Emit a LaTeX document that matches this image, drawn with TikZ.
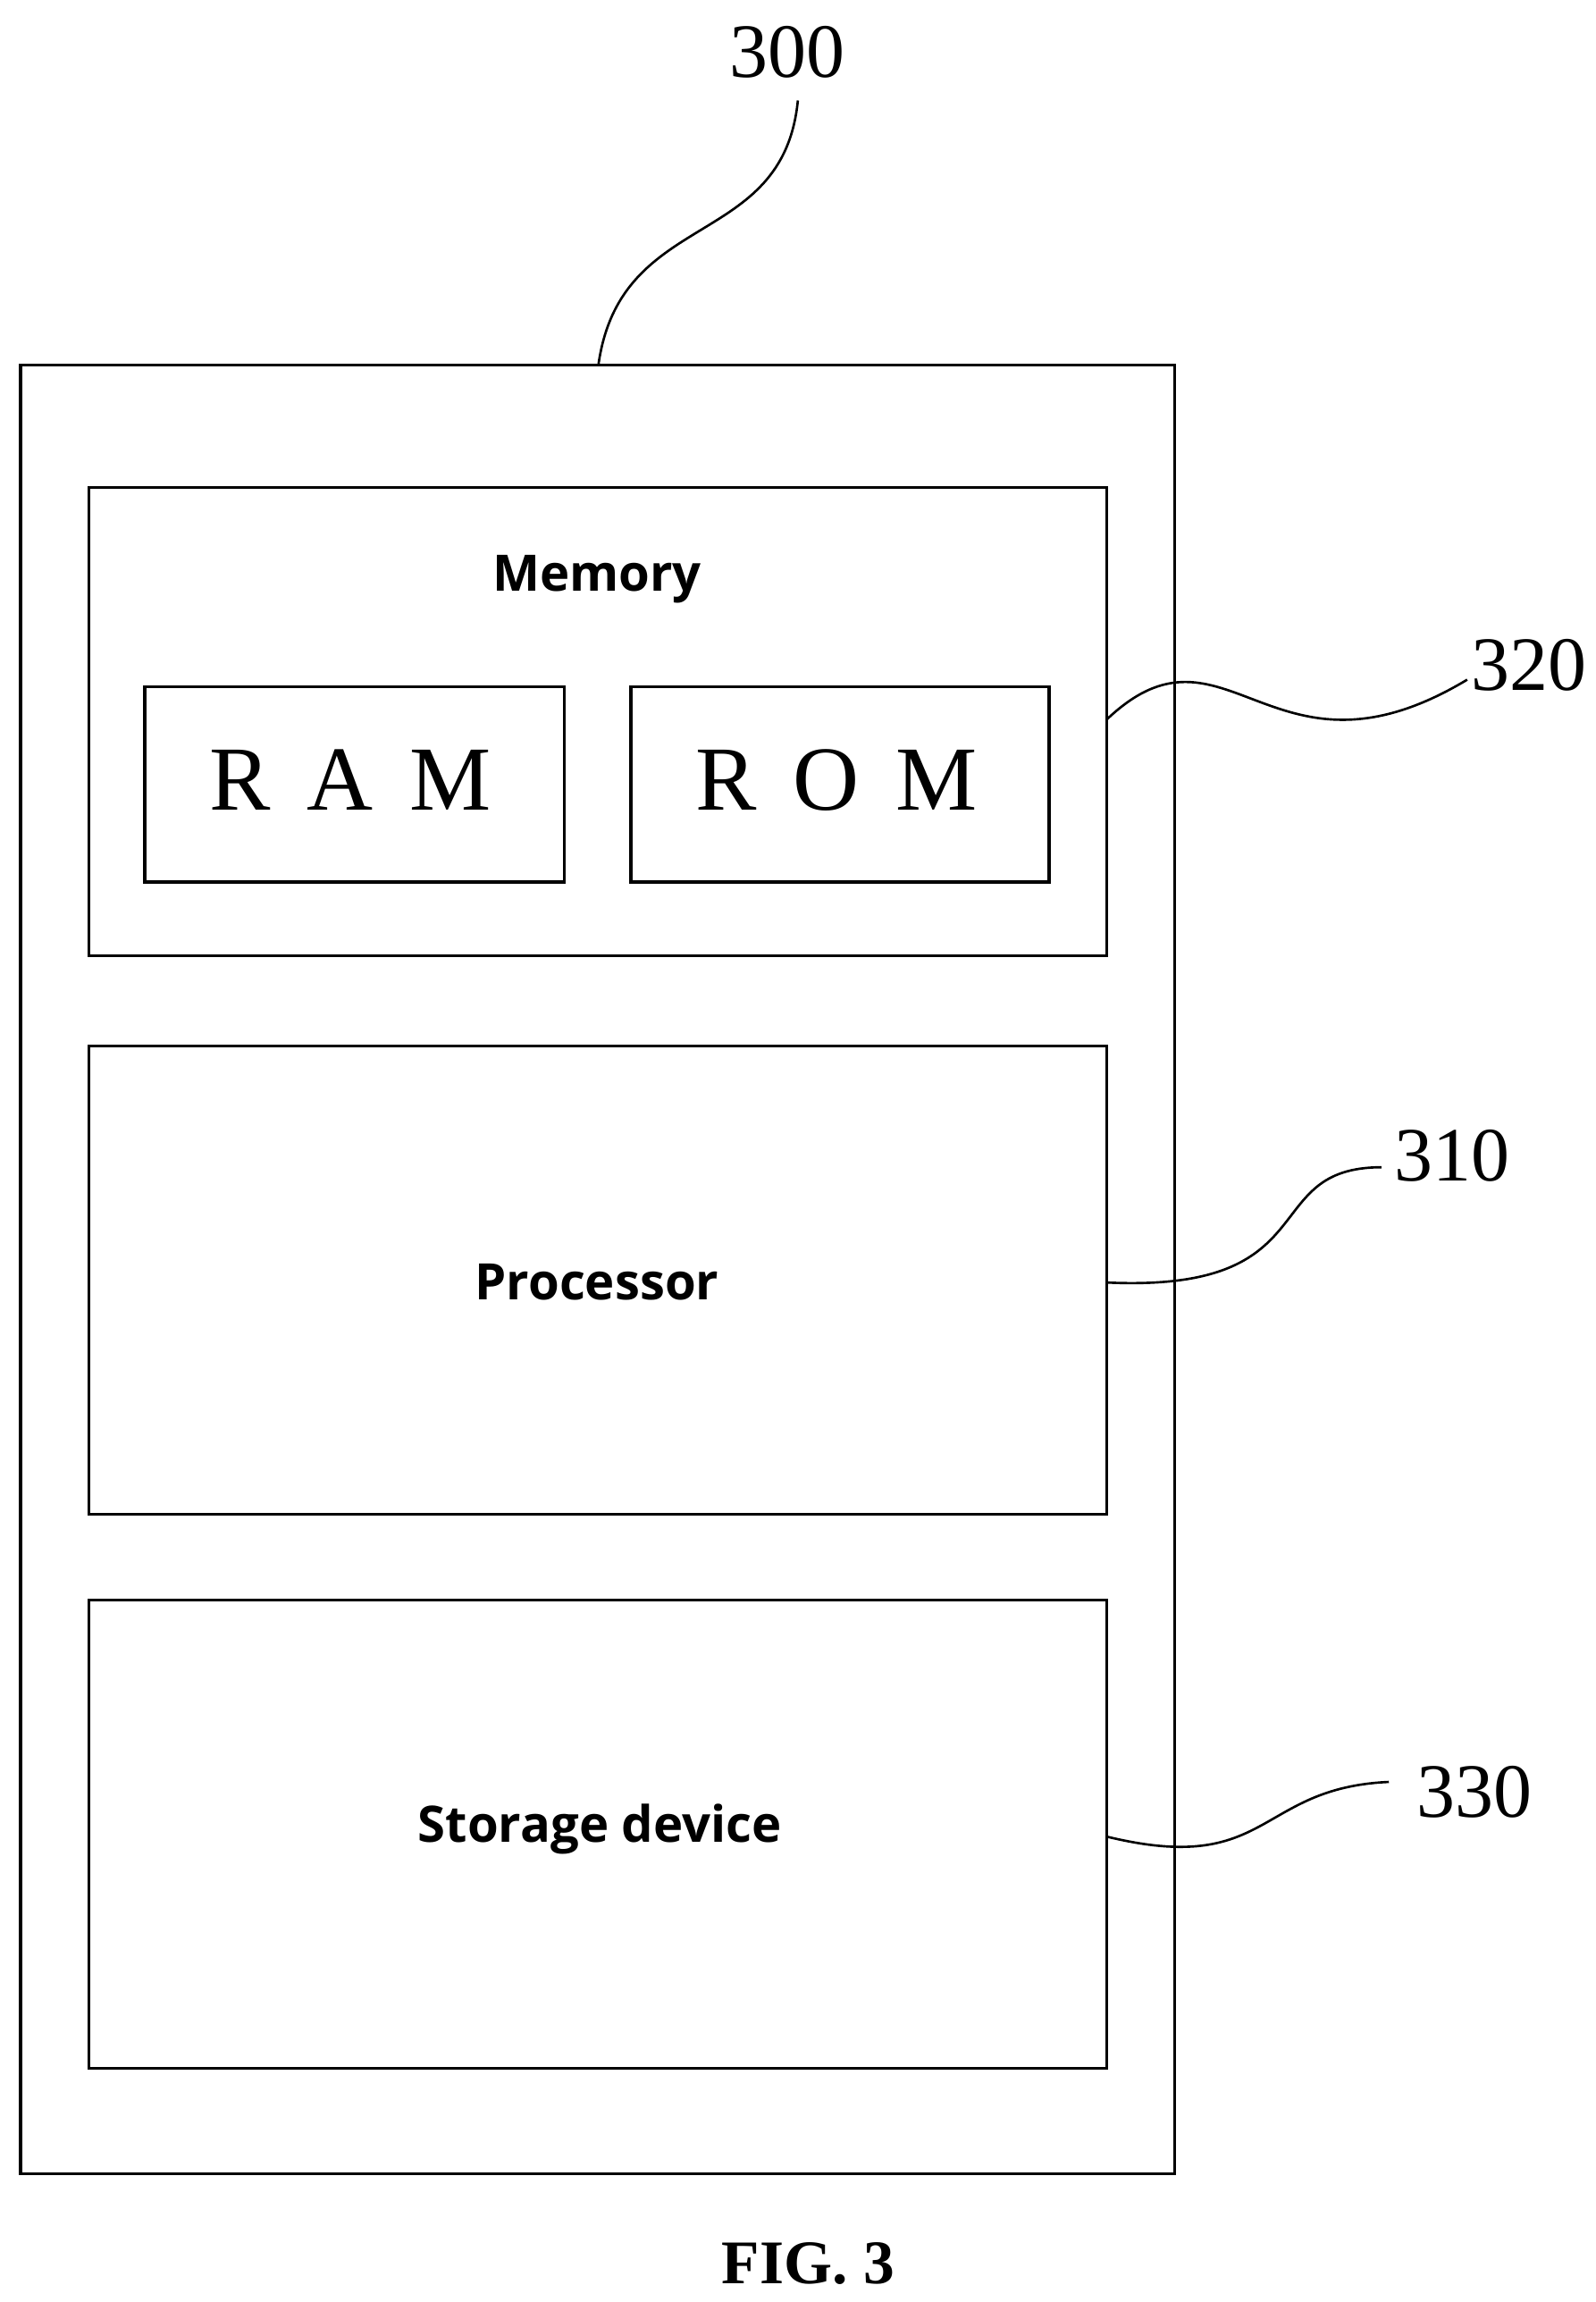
\documentclass[tikz,border=0pt]{standalone}
\usepackage{fontspec}
\setmainfont{Liberation Serif}
\setsansfont{Open Sans}
\begin{document}
\begin{tikzpicture}[x=1pt,y=-1pt,
  box/.style={draw,line width=2pt},
  lbl/.style={font=\sffamily\bfseries\fontsize{34}{40}\selectfont},
  mem/.style={font=\fontsize{62}{70}\selectfont},
  num/.style={font=\fontsize{52}{60}\selectfont},
  lead/.style={line width=1.6pt}]
\useasboundingbox (0,0) rectangle (1080,1558);
\draw[box] (14,247) rectangle (795,1471);
\coordinate (otop) at (405,247);
\draw[box] (60,330) rectangle (749,647);
\coordinate (memr) at (749,487);
\node[lbl] (memory) at (404,392) {Memory};
\draw[box] (98,465) rectangle (382,597);
\node[mem] (ram) at (237,528) {R\hspace{0.4em}A\hspace{0.4em}M};
\draw[box] (427,465) rectangle (710,597);
\node[mem] (rom) at (566,528) {R\hspace{0.4em}O\hspace{0.4em}M};
\draw[box] (60,708) rectangle (749,1025);
\coordinate (procr) at (749,868);
\node[lbl] (proc) at (404,868) {Processor};
\draw[box] (60,1083) rectangle (749,1400);
\coordinate (storr) at (749,1243);
\node[lbl] (stor) at (406,1238) {Storage device};
\node[num] (n300) at (533,35) {300};
\node[num] (n320) at (1035,450) {320};
\node[num] (n310) at (983,782) {310};
\node[num] (n330) at (998,1213) {330};
\coordinate (c300) at (540,68);
\coordinate (c320) at (993,460);
\coordinate (c310) at (935,790);
\coordinate (c330) at (940,1206);
\draw[lead] (otop) .. controls (420,140) and (530,170) .. (c300);
\draw[lead] (memr) .. controls (830,410) and (860,540) .. (c320);
\draw[lead] (procr) .. controls (900,875) and (850,790) .. (c310);
\draw[lead] (storr) .. controls (860,1270) and (850,1210) .. (c330);
\node[font=\bfseries\fontsize{42}{48}\selectfont] (fig) at (547,1532) {FIG. 3};
\end{tikzpicture}
\end{document}
